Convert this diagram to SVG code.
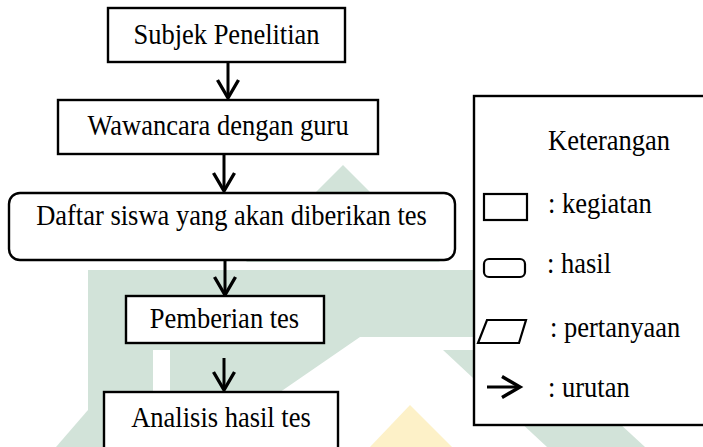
<svg xmlns="http://www.w3.org/2000/svg" width="703" height="447" viewBox="0 0 703 447">
  <defs>
    <style>
      .box { fill: #ffffff; stroke: #000000; stroke-width: 2.4; }
      .sym { fill: #ffffff; stroke: #000000; stroke-width: 2.2; }
      .txt { font-family: "Liberation Serif", "Times New Roman", serif; font-size: 26.5px; fill: #000000; }
      .ctr { text-anchor: middle; }
      .conn { fill: none; stroke: #000000; stroke-width: 3; }
      .wm { fill: #d2e3d9; stroke: none; }
      .wy { fill: #fdf1c8; stroke: none; }
    </style>
    <marker id="arr" viewBox="0 0 22 22" refX="20" refY="11" markerWidth="22" markerHeight="22" markerUnits="userSpaceOnUse" orient="auto" overflow="visible">
      <path d="M 2 0.5 L 20 11 L 2 21.5" fill="none" stroke="#000000" stroke-width="3.4" stroke-linejoin="miter"/>
    </marker>
  </defs>

  <rect width="703" height="447" fill="#ffffff"/>

  <g id="watermark">
    <polygon class="wm" points="343,165 440,262 246,262"/>
    <polygon class="wm" points="88,270 600,270 600,400 533,337 360,337 200,447 170,447 170,350 153,350 153,447 88,447"/>
    <polygon class="wm" points="88,410 88,447 56,447"/>
    <polygon class="wm" points="443,350 540,350 645,447 547,447"/>
    <polygon class="wy" points="410,405 452,447 370,447"/>
  </g>

  <g id="connectors">
    <line class="conn" x1="228" y1="62" x2="228" y2="98" marker-end="url(#arr)"/>
    <line class="conn" x1="224" y1="154" x2="224" y2="191" marker-end="url(#arr)"/>
    <line class="conn" x1="225" y1="260" x2="225" y2="295" marker-end="url(#arr)"/>
    <line class="conn" x1="224" y1="358" x2="224" y2="390" marker-end="url(#arr)"/>
  </g>

  <g id="n1">
    <rect class="box" x="108" y="8" width="237" height="54"/>
    <text class="txt ctr" transform="translate(226.5,44) scale(1,1.08)">Subjek Penelitian</text>
  </g>
  <g id="n2">
    <rect class="box" x="58" y="100" width="320" height="54"/>
    <text class="txt ctr" transform="translate(218,135) scale(1,1.08)">Wawancara dengan guru</text>
  </g>
  <g id="n3">
    <rect class="box" x="9" y="193" width="446" height="67" rx="11" ry="11"/>
    <text class="txt ctr" transform="translate(231.5,225) scale(1,1.08)">Daftar siswa yang akan diberikan tes</text>
  </g>
  <g id="n4">
    <rect class="box" x="126" y="296" width="198" height="47"/>
    <text class="txt ctr" transform="translate(224.5,328) scale(1,1.08)">Pemberian tes</text>
  </g>
  <g id="n5">
    <rect class="box" x="104" y="392" width="234" height="60"/>
    <text class="txt ctr" transform="translate(221,427) scale(1,1.08)">Analisis hasil tes</text>
  </g>

  <g id="legend">
    <rect class="box" x="474" y="96" width="240" height="329"/>
    <text class="txt" transform="translate(548,150) scale(1,1.08)">Keterangan</text>
    <rect class="sym" x="484" y="194" width="43" height="26"/>
    <text class="txt" transform="translate(548,213) scale(1,1.08)">: kegiatan</text>
    <rect class="sym" x="484" y="259" width="41" height="18" rx="5" ry="5"/>
    <text class="txt" transform="translate(547,273) scale(1,1.08)">: hasil</text>
    <polygon class="sym" points="487,320 526,320 519,343 478,343"/>
    <text class="txt" transform="translate(550,337) scale(1,1.08)">: pertanyaan</text>
    <line class="conn" x1="487" y1="387" x2="520" y2="387" marker-end="url(#arr)"/>
    <text class="txt" transform="translate(548,397) scale(1,1.08)">: urutan</text>
  </g>
</svg>
